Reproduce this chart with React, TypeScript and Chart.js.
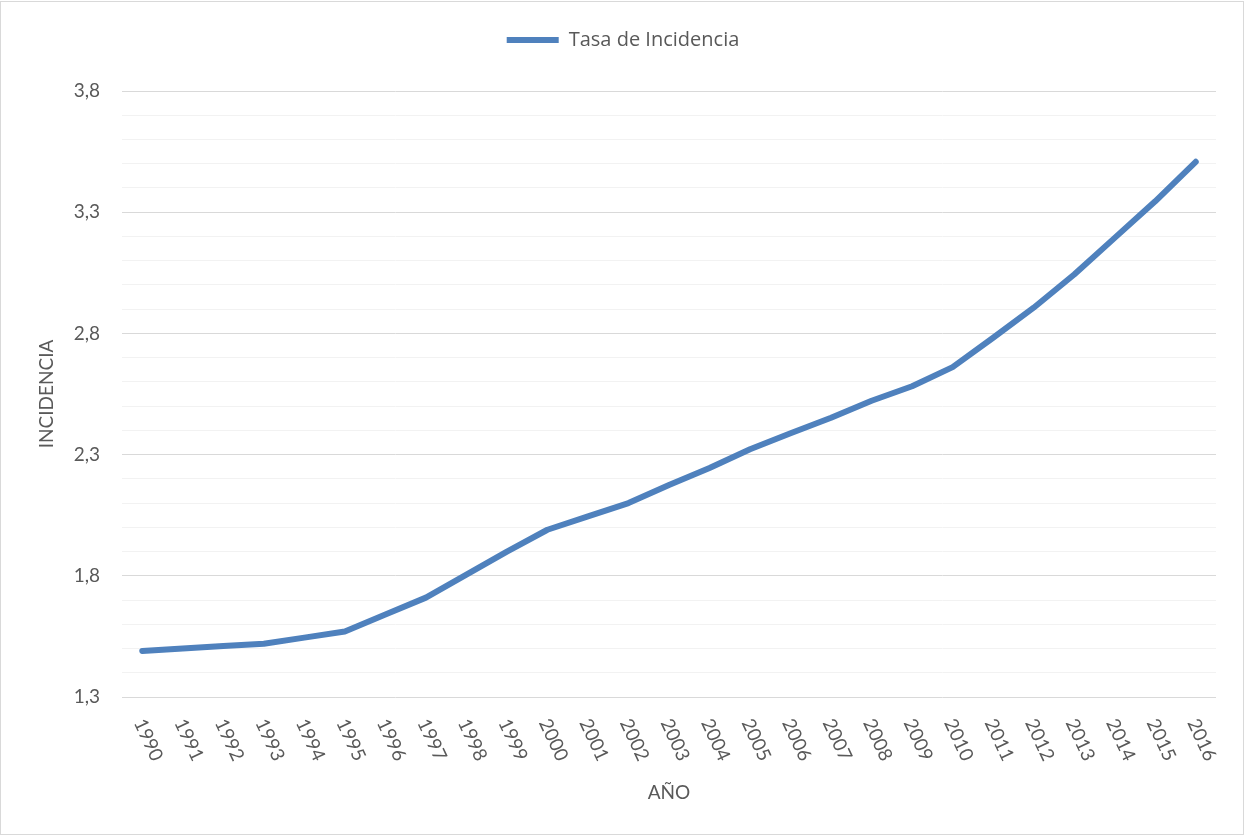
import React, { useEffect, useRef } from "react";
import { Chart, registerables } from "chart.js";

Chart.register(...registerables);

const years: string[] = [
  "1990", "1991", "1992", "1993", "1994", "1995", "1996", "1997", "1998", "1999",
  "2000", "2001", "2002", "2003", "2004", "2005", "2006", "2007", "2008", "2009",
  "2010", "2011", "2012", "2013", "2014", "2015", "2016",
];

const tasaIncidencia: number[] = [
  1.49, 1.50, 1.51, 1.52, 1.545, 1.57, 1.64, 1.71, 1.805, 1.90,
  1.99, 2.045, 2.10, 2.175, 2.245, 2.322, 2.388, 2.452, 2.522, 2.582,
  2.661, 2.782, 2.906, 3.043, 3.194, 3.345, 3.508,
];

const seriesLabel = "Tasa de Incidencia";
const yTitle = "INCIDENCIA";
const xTitle = "AÑO";
const Y_MIN = 1.3;
const Y_MAX = 3.8;
const Y_MINOR_STEP = 0.1;
const Y_MAJOR_EVERY = 5; // one labelled tick every 5 minor steps

const FONT = "Lato, 'Open Sans', sans-serif";
const LEGEND_FONT = "'Open Sans', Lato, sans-serif";
const TEXT = "#595959";
const LINE = "#4f81bd";

export default function App() {
  const ref = useRef<HTMLCanvasElement | null>(null);

  useEffect(() => {
    document.body.style.margin = "0";
    const canvas = ref.current!;
    const isMajor = (v: number) =>
      Math.round((v - Y_MIN) / Y_MINOR_STEP) % Y_MAJOR_EVERY === 0;

    const rotatedX = {
      id: "rotatedX",
      afterDraw(chart: any) {
        const { ctx, scales, chartArea } = chart;
        const sx = scales.x;
        ctx.save();
        ctx.font = `19px ${FONT}`;
        ctx.fillStyle = TEXT;
        ctx.textAlign = "center";
        ctx.textBaseline = "middle";
        const ang = (65 * Math.PI) / 180;
        years.forEach((lab, i) => {
          const x = sx.getPixelForValue(i);
          ctx.save();
          ctx.translate(x + 6, chartArea.bottom + 43);
          ctx.rotate(ang);
          ctx.fillText(lab, 0, 0);
          ctx.restore();
        });
        ctx.restore();
      },
    };

    const chart = new Chart(canvas, {
      type: "line",
      data: {
        labels: years,
        datasets: [
          {
            label: seriesLabel,
            data: tasaIncidencia,
            borderColor: LINE,
            backgroundColor: LINE,
            borderWidth: 6,
            borderCapStyle: "round",
            borderJoinStyle: "round",
            pointRadius: 0,
            pointHoverRadius: 0,
            tension: 0,
            fill: false,
          },
        ],
      },
      options: {
        responsive: false,
        animation: false,
        layout: { padding: { top: 20, left: 15, right: 15, bottom: 0 } },
        plugins: {
          legend: {
            display: true,
            position: "top",
            weight: 3000,
            labels: {
              usePointStyle: true,
              pointStyle: "line",
              pointStyleWidth: 52,
              padding: 10,
              color: TEXT,
              font: { family: LEGEND_FONT, size: 20 },
            },
          } as any,
          title: {
            display: true,
            text: "",
            weight: 500,
            font: { size: 1, lineHeight: 1 },
            padding: { top: 30, bottom: 0 },
          } as any,
          tooltip: { enabled: false },
        },
        scales: {
          x: {
            type: "category",
            offset: true,
            grid: { display: false },
            border: { display: false },
            ticks: { display: false },
            title: {
              display: true,
              text: xTitle,
              color: TEXT,
              font: { family: FONT, size: 19 },
              padding: { top: 0, bottom: 31.6 },
            },
            afterFit(scale: any) {
              scale.height = 139;
            },
          },
          y: {
            min: Y_MIN,
            max: Y_MAX,
            grid: {
              drawTicks: false,
              lineWidth: 1,
              color: (c: any) =>
                isMajor(c.tick.value) ? "#d9d9d9" : "#f2f2f2",
            },
            border: { display: false },
            ticks: {
              stepSize: Y_MINOR_STEP,
              padding: 22,
              color: TEXT,
              font: { family: FONT, size: 19 },
              autoSkip: false,
              callback: (v: any) => {
                const n = Number(v);
                return isMajor(n) ? n.toFixed(1).replace(".", ",") : "";
              },
            },
            title: {
              display: true,
              text: yTitle,
              color: TEXT,
              font: { family: FONT, size: 19 },
              padding: { top: 20.6, bottom: 0 },
            },
            afterFit(scale: any) {
              scale.width = 107;
            },
          },
          ySpacer: {
            type: "linear",
            position: "right",
            display: true,
            grid: { display: false },
            border: { display: false },
            ticks: { display: false },
            afterFit(scale: any) {
              scale.width = 15;
            },
          },
        },
      },
      plugins: [rotatedX],
    });

    return () => chart.destroy();
  }, []);

  return (
    <div style={{ position: "fixed", left: 0, top: 0, width: 1246, height: 836, background: "#fff" }}>
      <canvas ref={ref} width={1246} height={836} style={{ display: "block" }} />
      <div
        style={{
          position: "absolute",
          left: 0,
          top: 1,
          width: 1242,
          height: 832,
          border: "1px solid #d9d9d9",
          pointerEvents: "none",
        }}
      />
    </div>
  );
}
